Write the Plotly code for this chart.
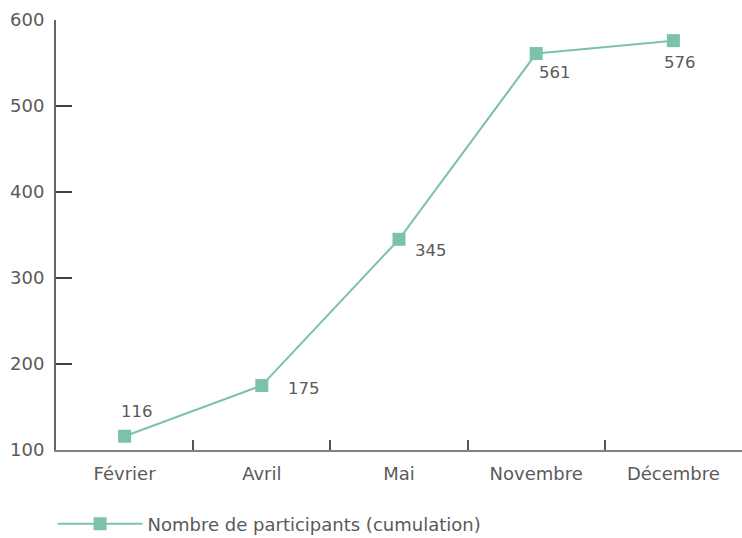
import plotly.graph_objects as go

categories = ["Février", "Avril", "Mai", "Novembre", "Décembre"]
participants = [116, 175, 345, 561, 576]
y_ticks = [100, 200, 300, 400, 500, 600]

# label offsets in px (style only)
label_dx = [12, 42, 32, 19, 7]
label_dy = [25, -3, -11, -19, -22]

FONT = "DejaVu Sans, sans-serif"
TXT = "#5a5a5a"
GREEN = "#7cc2ab"

fig = go.Figure()
fig.add_trace(go.Scatter(
    x=categories, y=participants, mode="lines+markers",
    name="Nombre de participants (cumulation)",
    line=dict(color=GREEN, width=2),
    marker=dict(symbol="square", size=13, color=GREEN),
))

for c, v, dx, dy in zip(categories, participants, label_dx, label_dy):
    fig.add_annotation(x=c, y=v, text=str(v), showarrow=False,
                       xshift=dx, yshift=dy,
                       font=dict(family=FONT, size=16.5, color=TXT))

fig.update_layout(
    width=742, height=538,
    margin=dict(l=56, r=0, t=20, b=88),
    plot_bgcolor="white", paper_bgcolor="white",
    font=dict(family=FONT, size=18, color=TXT),
    showlegend=True,
    legend=dict(orientation="h", x=-0.005, xanchor="left",
                yref="container", y=0.026, yanchor="middle",
                itemwidth=85,
                font=dict(family=FONT, size=18, color=TXT)),
    xaxis=dict(
        type="category", range=[-0.5, 4.5], showgrid=False, automargin=False,
        showline=True, linecolor="#808080", linewidth=2,
        ticks="inside", tickson="boundaries", ticklen=10, tickcolor="#555555", tickwidth=1.5,
        tickfont=dict(family=FONT, size=18, color=TXT), ticklabelstandoff=6,
    ),
    yaxis=dict(
        range=[100, 600], tickvals=y_ticks, showgrid=False, zeroline=False, automargin=False,
        showline=True, linecolor="#666666", linewidth=2,
        ticks="inside", ticklen=16, tickcolor="#404040", tickwidth=2,
        tickfont=dict(family=FONT, size=18, color=TXT), ticklabelstandoff=6,
    ),
)

fig.write_html("out.html", config={"displayModeBar": False},
               post_script="document.body.style.margin='0';document.body.style.overflow='hidden';")
